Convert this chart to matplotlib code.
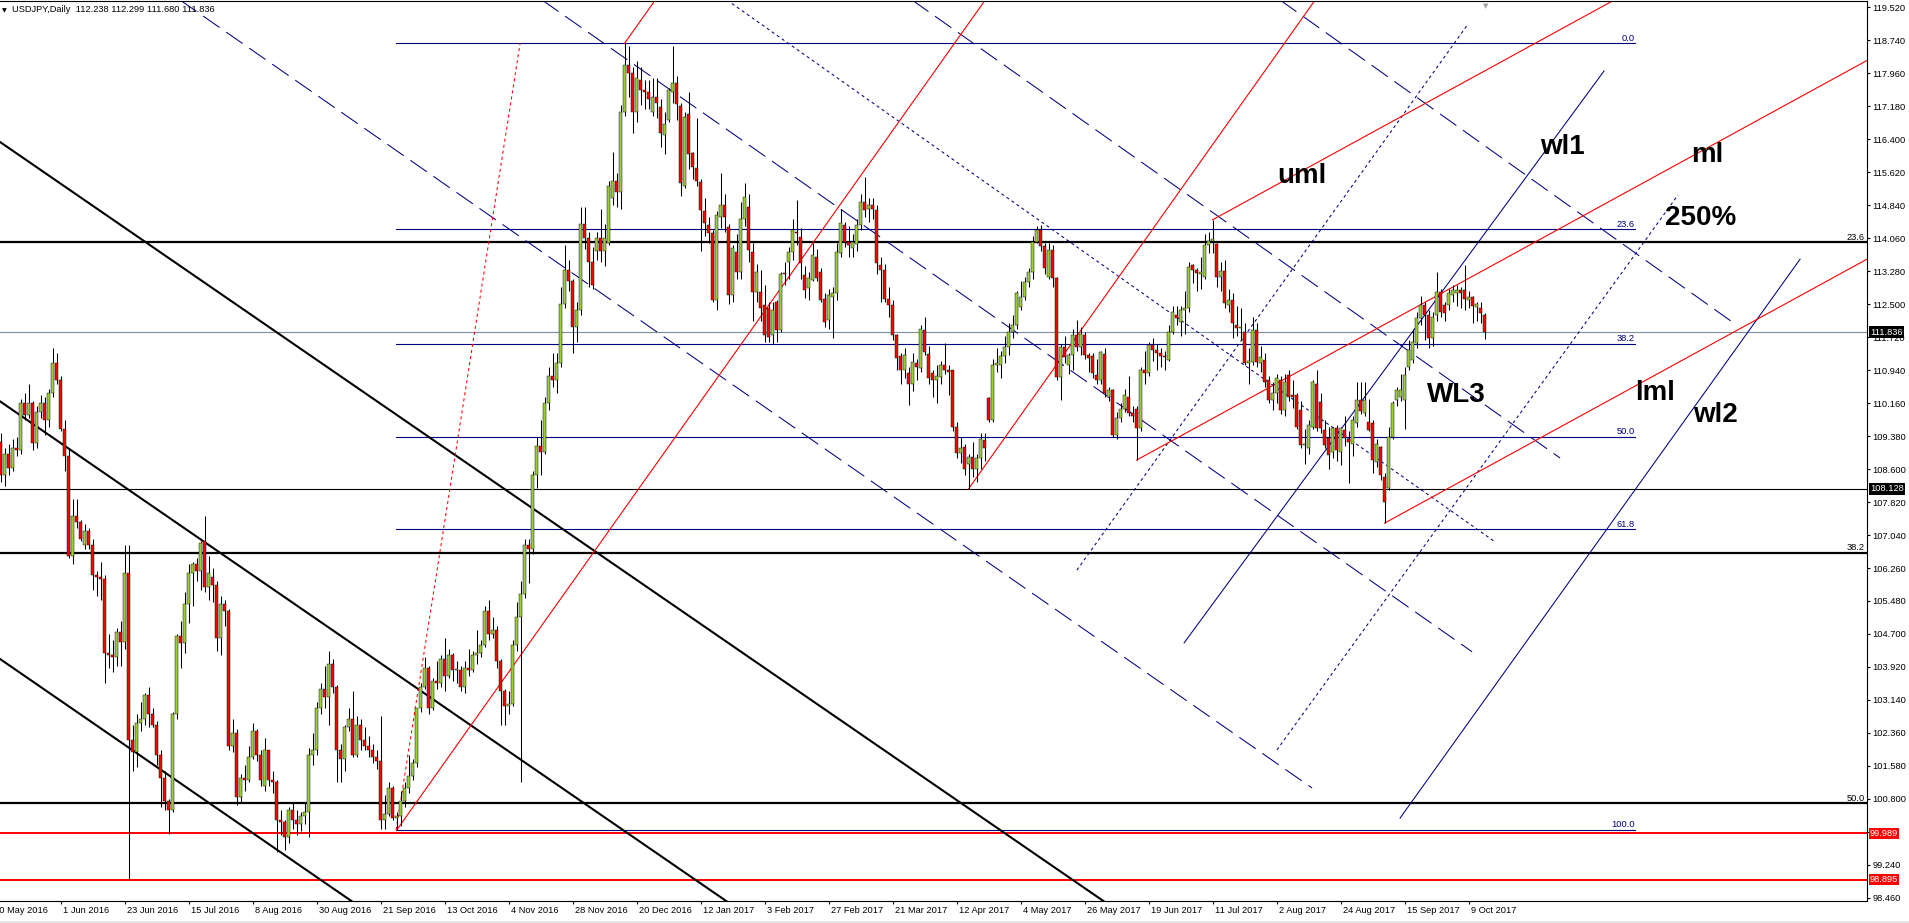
import matplotlib
matplotlib.use("Agg")
import matplotlib.pyplot as plt
import matplotlib.transforms as mtransforms
import numpy as np

plt.rcParams["font.family"] = ["Liberation Sans", "DejaVu Sans"]
plt.rcParams["lines.scale_dashes"] = False

# daily USDJPY bars, first bar = 11 May 2016, last = 13 Oct 2017
opens = [
    109.25, 108.45, 108.95, 108.62, 109.10, 109.05, 110.15, 109.88, 110.15, 109.22,
    109.95, 110.15, 109.75, 110.40, 111.10, 110.70, 109.55, 108.90, 106.55, 107.50,
    107.35, 106.80, 107.13, 106.80, 106.10, 106.05, 106.00, 104.25, 104.20, 104.15,
    104.75, 104.50, 106.15, 102.20, 101.90, 102.60, 102.70, 103.25, 102.80, 102.55,
    101.85, 101.30, 100.75, 100.55, 102.80, 104.65, 104.48, 105.40, 106.15, 106.35,
    106.20, 106.90, 105.80, 106.05, 105.85, 104.60, 105.40, 105.25, 102.05, 102.35,
    100.85, 101.30, 101.25, 101.80, 102.40, 101.85, 101.10, 101.95, 101.25, 101.20,
    100.30, 100.25, 99.90, 100.55, 100.30, 100.20, 100.40, 100.50, 101.85, 101.95,
    102.95, 103.40, 103.20, 104.00, 103.45, 101.95, 101.75, 102.50, 102.70, 101.85,
    102.55, 102.20, 102.05, 101.95, 101.80, 101.70, 100.30, 100.45, 101.05, 100.35,
    100.40, 100.75, 101.05, 101.35, 101.65, 102.95, 103.45, 103.90, 102.95, 103.60,
    103.55, 104.10, 103.70, 104.20, 103.85, 103.85, 103.45, 103.90, 103.85, 104.20,
    104.25, 104.45, 105.25, 104.70, 104.80, 104.05, 103.35, 103.00, 103.05, 104.45,
    105.10, 105.65, 106.80, 106.70, 108.45, 109.15, 109.00, 110.15, 110.80, 110.70,
    111.10, 112.50, 113.30, 113.05, 111.95, 112.35, 114.40, 114.05, 113.50, 113.75,
    114.05, 113.75, 113.95, 115.00, 115.40, 115.15, 117.05, 118.15, 117.95, 117.05,
    117.80, 117.55, 117.50, 117.05, 117.40, 117.15, 116.50, 116.85, 117.52, 117.72,
    117.18, 115.30, 117.00, 116.06, 115.72, 115.39, 114.70, 114.37, 114.17, 112.60,
    114.56, 114.84, 114.33, 112.71, 113.74, 113.26, 114.52, 114.80, 113.74, 112.79,
    112.79, 112.48, 112.40, 111.77, 112.55, 111.89, 113.22, 113.50, 113.74, 114.20,
    114.09, 113.18, 112.87, 113.07, 113.62, 113.26, 112.63, 112.12, 112.67, 112.75,
    113.70, 114.37, 113.97, 113.82, 113.93, 114.37, 114.92, 114.74, 114.84, 114.72,
    113.42, 113.30, 112.63, 112.48, 111.77, 111.26, 110.94, 110.86, 110.62, 111.10,
    110.98, 111.89, 111.33, 110.86, 110.70, 110.78, 111.06, 110.94, 110.94, 109.60,
    108.97, 109.13, 108.73, 108.89, 108.60, 108.85, 109.28, 110.27, 109.76, 111.06,
    111.06, 111.26, 111.49, 111.85, 112.00, 112.44, 112.67, 113.03, 113.26, 113.97,
    114.25, 113.86, 113.15, 113.78, 113.11, 110.78, 111.49, 111.06, 111.29, 111.77,
    111.49, 111.77, 111.29, 111.26, 110.82, 110.70, 111.33, 110.31, 110.47, 109.40,
    109.80, 110.03, 110.31, 109.92, 110.03, 109.56, 110.94, 110.86, 111.53, 111.41,
    111.35, 111.28, 111.18, 111.85, 112.24, 112.08, 112.36, 112.40, 113.42, 113.30,
    113.22, 113.15, 113.89, 114.00, 113.93, 113.15, 113.27, 112.48, 112.60, 112.00,
    111.93, 111.85, 111.10, 111.14, 111.89, 111.10, 111.18, 110.70, 110.23, 110.39,
    110.70, 109.99, 110.82, 110.35, 110.35, 110.00, 109.17, 109.09, 109.60, 110.62,
    110.19, 109.52, 109.33, 109.00, 109.56, 109.00, 109.52, 109.30, 109.20, 109.68,
    110.23, 109.92, 109.72, 109.68, 108.77, 109.13, 108.42, 108.14, 109.36, 110.23,
    110.30, 110.23, 111.02, 111.18, 111.57, 112.16, 112.48, 112.24, 111.69, 112.24,
    112.79, 112.48, 112.48, 112.71, 112.76, 112.83, 112.83, 112.60, 112.67, 112.43,
    112.40, 112.238,
]
highs = [
    109.45, 109.10, 109.20, 109.30, 109.35, 110.25, 110.40, 110.60, 110.20, 110.10,
    110.35, 110.30, 110.50, 111.45, 111.35, 110.80, 109.75, 109.10, 107.90, 107.90,
    107.40, 107.30, 107.20, 106.95, 106.20, 106.40, 106.10, 104.70, 104.55, 104.85,
    105.00, 106.80, 106.80, 102.55, 102.80, 103.10, 103.30, 103.45, 102.95, 102.65,
    101.95, 101.45, 100.80, 102.85, 104.70, 105.00, 105.70, 106.35, 106.40, 106.50,
    106.90, 107.49, 106.55, 106.25, 105.95, 105.60, 105.50, 105.30, 102.70, 102.45,
    101.40, 101.60, 102.05, 102.60, 102.45, 101.95, 102.25, 101.95, 101.45, 101.25,
    100.55, 100.30, 100.60, 100.70, 100.55, 100.50, 100.70, 102.00, 102.35, 103.10,
    103.55, 103.95, 104.30, 104.10, 103.50, 102.10, 102.55, 102.95, 103.35, 102.75,
    102.70, 102.50, 102.30, 102.10, 101.95, 102.75, 100.90, 101.20, 101.10, 100.50,
    101.00, 101.20, 101.85, 101.75, 102.95, 103.55, 104.15, 103.95, 103.65, 104.05,
    104.20, 104.60, 104.35, 104.25, 104.05, 103.95, 104.05, 104.35, 104.30, 104.80,
    104.55, 105.35, 105.50, 105.10, 104.90, 104.10, 103.40, 103.35, 104.55, 105.45,
    105.95, 106.95, 106.95, 108.55, 109.35, 109.75, 110.30, 111.00, 111.35, 111.35,
    112.90, 113.90, 113.55, 113.10, 112.55, 114.80, 114.80, 114.20, 113.85, 114.20,
    114.75, 114.40, 115.40, 116.10, 115.60, 117.20, 118.66, 118.60, 118.10, 118.25,
    118.10, 117.80, 117.80, 117.85, 117.85, 117.35, 117.05, 117.60, 118.60, 117.90,
    117.25, 117.05, 117.50, 116.10, 116.90, 115.45, 115.00, 114.55, 114.25, 114.70,
    115.60, 115.10, 114.40, 113.90, 114.15, 114.90, 115.35, 115.10, 113.95, 113.45,
    113.30, 112.95, 112.55, 112.55, 112.60, 113.25, 113.50, 113.85, 114.50, 114.95,
    114.30, 113.40, 113.25, 113.95, 113.80, 113.35, 112.75, 112.85, 112.90, 113.95,
    114.75, 114.45, 114.35, 114.15, 114.50, 115.10, 115.51, 115.00, 115.00, 114.85,
    113.60, 113.45, 112.90, 112.60, 111.80, 111.35, 111.45, 111.00, 111.35, 111.20,
    112.00, 112.20, 111.50, 110.95, 111.05, 111.15, 111.57, 111.05, 110.95, 109.70,
    109.35, 109.20, 108.95, 109.25, 108.95, 109.45, 109.45, 110.30, 111.20, 111.45,
    111.40, 111.75, 112.05, 112.25, 112.80, 113.05, 113.15, 113.35, 114.10, 114.35,
    114.37, 113.95, 113.95, 113.90, 113.15, 111.55, 111.75, 111.35, 111.90, 112.12,
    111.95, 111.85, 111.35, 111.35, 111.20, 111.40, 111.45, 110.55, 110.50, 109.95,
    110.15, 110.50, 110.80, 110.10, 110.10, 111.00, 111.40, 111.60, 111.70, 111.55,
    111.45, 111.40, 112.00, 112.45, 112.45, 112.45, 112.80, 113.50, 113.45, 113.35,
    113.60, 114.15, 114.20, 114.49, 113.95, 113.50, 113.55, 112.85, 112.75, 112.45,
    112.40, 112.05, 111.45, 112.20, 112.05, 111.50, 111.35, 110.80, 110.65, 110.85,
    110.80, 110.85, 110.95, 110.70, 110.40, 110.20, 109.55, 109.75, 110.70, 110.95,
    110.40, 109.75, 109.60, 109.60, 109.65, 109.60, 109.85, 109.50, 109.85, 110.65,
    110.65, 110.65, 110.25, 109.75, 109.30, 109.15, 108.50, 109.60, 110.20, 110.55,
    110.85, 111.00, 111.65, 111.90, 112.30, 112.70, 112.55, 112.35, 112.30, 113.26,
    112.85, 112.55, 112.85, 112.95, 112.95, 112.90, 113.43, 112.80, 112.70, 112.55,
    112.55, 112.299,
]
lows = [
    108.30, 108.20, 108.45, 108.55, 108.90, 108.95, 109.75, 109.80, 109.05, 109.10,
    109.80, 109.40, 109.60, 110.30, 110.60, 109.50, 108.55, 106.50, 106.35, 107.20,
    106.90, 106.70, 106.70, 105.75, 105.60, 105.50, 103.55, 103.90, 103.80, 103.95,
    103.95, 104.35, 98.90, 101.45, 101.55, 102.40, 102.55, 102.50, 102.50, 101.60,
    100.60, 100.55, 99.98, 100.50, 102.70, 103.90, 104.25, 104.95, 105.35, 105.95,
    105.75, 105.70, 105.50, 105.45, 104.30, 104.20, 104.90, 101.95, 101.90, 100.65,
    100.70, 101.00, 101.20, 101.75, 101.70, 101.10, 101.00, 101.10, 100.95, 99.55,
    99.95, 99.60, 99.75, 100.10, 99.95, 100.05, 100.20, 99.90, 101.60, 101.85,
    102.80, 102.95, 102.55, 103.30, 101.20, 101.20, 101.45, 102.40, 101.80, 101.80,
    101.95, 101.95, 101.80, 101.65, 101.50, 100.10, 100.10, 100.40, 100.30, 100.06,
    100.15, 100.60, 100.95, 101.25, 101.55, 102.85, 103.40, 102.80, 102.90, 103.40,
    103.45, 103.35, 103.65, 103.60, 103.55, 103.35, 103.30, 103.70, 103.80, 104.00,
    104.15, 104.40, 104.55, 104.60, 103.90, 102.55, 102.55, 102.80, 103.00, 104.30,
    101.20, 105.55, 105.90, 106.60, 108.15, 108.45, 108.95, 110.00, 110.55, 110.40,
    111.00, 112.40, 112.80, 111.35, 111.60, 112.25, 113.80, 112.90, 112.85, 113.55,
    113.50, 113.40, 113.90, 114.85, 114.80, 114.75, 116.95, 117.40, 116.55, 116.80,
    117.20, 117.10, 117.10, 116.95, 116.90, 116.20, 116.05, 116.80, 117.25, 116.85,
    115.05, 115.25, 115.70, 115.45, 115.30, 113.75, 114.10, 113.95, 112.55, 112.35,
    114.30, 114.20, 112.50, 112.55, 113.10, 113.10, 114.35, 113.50, 112.10, 112.55,
    112.10, 111.60, 111.60, 111.55, 111.60, 111.85, 112.95, 113.10, 113.55, 113.90,
    113.10, 112.65, 112.60, 113.05, 113.05, 112.55, 111.95, 111.90, 111.70, 112.60,
    113.60, 113.85, 113.60, 113.60, 113.75, 114.25, 114.55, 114.45, 114.50, 113.20,
    112.55, 112.55, 112.20, 111.65, 110.95, 110.60, 110.75, 110.11, 110.45, 110.70,
    110.90, 111.30, 110.60, 110.30, 110.15, 110.60, 110.85, 110.35, 109.50, 108.85,
    108.75, 108.45, 108.13, 108.40, 108.30, 108.60, 108.80, 109.70, 109.70, 110.90,
    110.75, 111.10, 111.30, 111.70, 111.90, 112.35, 112.60, 112.90, 113.10, 113.95,
    113.75, 113.20, 113.10, 112.90, 110.70, 110.23, 111.10, 110.85, 110.95, 111.40,
    111.30, 111.20, 110.90, 110.75, 110.60, 110.60, 110.30, 110.20, 109.35, 109.30,
    109.70, 109.95, 109.85, 109.70, 108.81, 109.50, 110.60, 110.80, 111.15, 110.95,
    111.00, 110.95, 111.15, 111.80, 112.00, 111.75, 111.80, 112.30, 113.00, 112.80,
    112.85, 113.10, 113.70, 113.70, 112.90, 112.80, 112.40, 112.30, 111.70, 111.75,
    111.65, 111.05, 110.60, 111.05, 111.00, 110.90, 110.55, 110.15, 110.00, 110.15,
    109.90, 109.85, 110.20, 110.05, 109.55, 109.10, 108.72, 108.95, 109.55, 109.50,
    109.45, 109.10, 108.60, 108.85, 108.80, 108.70, 109.15, 108.26, 108.90, 109.60,
    109.90, 109.85, 109.50, 108.50, 108.65, 108.35, 107.32, 108.10, 109.30, 110.10,
    110.20, 109.55, 110.95, 111.10, 111.45, 112.00, 111.65, 111.45, 111.50, 112.10,
    112.20, 112.10, 112.35, 112.55, 112.45, 112.40, 112.35, 112.40, 112.04, 112.10,
    112.05, 111.680,
]
closes = [
    108.45, 108.95, 108.62, 109.10, 109.05, 110.15, 109.88, 110.15, 109.22, 109.95,
    110.15, 109.75, 110.40, 111.10, 110.70, 109.55, 108.90, 106.55, 107.50, 107.35,
    106.95, 107.13, 106.80, 106.10, 106.05, 106.00, 104.25, 104.20, 104.15, 104.75,
    104.50, 106.15, 102.20, 101.90, 102.60, 102.70, 103.25, 102.80, 102.55, 101.85,
    101.30, 100.75, 100.55, 102.80, 104.65, 104.48, 105.40, 106.15, 106.35, 106.20,
    106.85, 105.80, 106.15, 105.85, 104.60, 105.40, 105.25, 102.05, 102.35, 100.85,
    101.30, 101.25, 101.80, 102.40, 101.85, 101.25, 101.95, 101.25, 101.20, 100.30,
    100.25, 99.90, 100.55, 100.30, 100.20, 100.40, 100.50, 101.85, 101.95, 102.95,
    103.40, 103.20, 104.00, 103.45, 101.95, 101.75, 102.50, 102.70, 101.85, 102.55,
    102.20, 102.05, 101.95, 101.80, 101.70, 100.30, 100.45, 101.05, 100.35, 100.40,
    100.75, 101.05, 101.35, 101.65, 102.95, 103.45, 103.90, 102.95, 103.60, 103.55,
    104.10, 103.70, 104.20, 103.85, 103.85, 103.45, 103.90, 103.85, 104.20, 104.25,
    104.45, 105.25, 104.70, 104.80, 104.05, 103.35, 103.00, 103.05, 104.45, 105.10,
    105.65, 106.80, 106.70, 108.45, 109.15, 109.00, 110.15, 110.80, 110.70, 111.10,
    112.50, 113.30, 113.05, 111.95, 112.35, 114.40, 114.05, 113.50, 112.95, 114.05,
    113.75, 114.05, 115.30, 115.40, 115.15, 117.05, 118.15, 117.95, 117.05, 117.85,
    117.55, 117.50, 117.35, 117.40, 117.25, 116.55, 116.75, 117.55, 117.72, 117.23,
    115.35, 116.93, 116.05, 115.75, 115.40, 114.72, 114.42, 114.17, 112.60, 114.60,
    114.84, 114.56, 112.71, 113.82, 113.26, 114.52, 115.04, 113.78, 112.79, 113.26,
    112.40, 111.77, 111.73, 112.36, 111.89, 113.22, 113.20, 113.74, 114.25, 114.17,
    113.46, 112.83, 113.11, 113.66, 113.11, 112.59, 112.08, 112.71, 112.75, 113.74,
    114.41, 113.97, 113.90, 113.97, 114.37, 114.92, 114.72, 114.84, 114.74, 113.46,
    113.30, 112.63, 112.48, 111.77, 111.22, 110.94, 111.29, 110.62, 111.14, 111.02,
    111.92, 111.37, 110.74, 110.70, 110.80, 111.06, 110.94, 110.90, 109.60, 108.97,
    109.10, 108.60, 108.89, 108.60, 108.85, 109.32, 109.09, 109.76, 111.06, 111.10,
    111.26, 111.49, 111.85, 112.00, 112.75, 112.67, 113.03, 113.26, 113.97, 114.25,
    113.86, 113.34, 113.78, 113.11, 110.78, 111.49, 111.25, 111.29, 111.77, 111.49,
    111.80, 111.29, 111.22, 110.86, 110.70, 111.37, 110.39, 110.47, 109.40, 109.80,
    110.03, 110.35, 109.92, 109.85, 109.56, 110.94, 110.86, 111.53, 111.41, 111.35,
    111.28, 111.25, 111.85, 112.32, 112.16, 112.36, 112.40, 113.38, 113.30, 113.24,
    113.26, 113.89, 114.00, 114.03, 113.15, 113.27, 112.52, 112.60, 112.04, 111.93,
    111.95, 111.10, 111.15, 111.89, 111.14, 111.25, 110.66, 110.23, 110.39, 110.74,
    109.99, 110.66, 110.31, 110.31, 109.60, 109.17, 109.17, 109.64, 110.66, 109.56,
    109.56, 109.17, 108.93, 109.56, 109.05, 109.56, 109.33, 109.25, 109.76, 110.23,
    109.96, 110.23, 109.52, 108.81, 109.20, 108.46, 107.83, 109.36, 110.15, 110.47,
    110.47, 110.82, 111.41, 111.61, 112.16, 112.48, 112.24, 111.69, 112.20, 112.79,
    112.32, 112.28, 112.75, 112.83, 112.83, 112.75, 112.63, 112.67, 112.45, 112.50,
    112.28, 111.836,
]

# bottom time labels, one every 16 bars starting at bar -16 (10 May 2016)
date_labels = [
    "10 May 2016", "1 Jun 2016", "23 Jun 2016", "15 Jul 2016", "8 Aug 2016",
    "30 Aug 2016", "21 Sep 2016", "13 Oct 2016", "4 Nov 2016", "28 Nov 2016",
    "20 Dec 2016", "12 Jan 2017", "3 Feb 2017", "27 Feb 2017", "21 Mar 2017",
    "12 Apr 2017", "4 May 2017", "26 May 2017", "19 Jun 2017", "11 Jul 2017",
    "2 Aug 2017", "24 Aug 2017", "15 Sep 2017", "9 Oct 2017",
]

# fibonacci retracements (blue one drawn between bars 84..393.6, black one full width)
fib_blue_hi, fib_blue_lo = 118.66, 100.07
fib_blue_levels = [0.0, 23.6, 38.2, 50.0, 61.8, 100.0]
fib_black_hi, fib_black_lo = 125.82, 75.57
fib_black_levels = [23.6, 38.2, 50.0]

# horizontal price lines: (price, line colour, label box colour)
price_lines = [(111.836, "#7f8fa0", "black"), (108.128, "black", "black"),
               (99.989, "#ff0000", "#ff0000"), (98.895, "#ff0000", "#ff0000")]

# pitchfork anchors (bar, price)
fork_big = [(84, 100.06), (141, 118.66), (227, 108.13)]
fork_small = [(269, 108.81), (288, 114.49), (331, 107.32)]

# trend lines (bar, price) pairs
black_channel = [((-15.125, 116.33), (266.7, 98.0)),
                 ((-15.125, 110.20), (172.4, 98.0)),
                 ((-15.125, 104.11), (78.7, 98.0))]
blue_dashed = [((29.9, 119.685), (312.9, 101.06)),
               ((120.4, 119.685), (352.9, 104.28)),
               ((212.9, 119.685), (374.9, 108.86)),
               ((304.9, 119.685), (418.6, 112.03))]
blue_dotted = [((166.6, 119.685), (358.6, 106.88)),
               ((254.1, 106.21), (351.9, 119.12)),
               ((304.1, 101.96), (404.4, 115.08))]
blue_solid = [((280.9, 104.49), (385.9, 118.01)),
              ((334.9, 100.35), (434.9, 113.56))]
red_dotted = [((83.9, 100.07), (114.9, 118.66))]

# chart annotations (text, bar, price at baseline)
notes = [("uml", 304.1, 115.35), ("wl1", 369.9, 116.05), ("ml", 407.6, 115.86),
         ("250%", 401.1, 114.37), ("WL3", 341.6, 110.19), ("lml", 393.6, 110.23),
         ("wl2", 408.1, 109.70)]

opens = np.array(opens)
highs = np.array(highs)
lows = np.array(lows)
closes = np.array(closes)
bars = np.arange(-15, -15 + len(closes))

NAVY = "#000080"
FS = 6.7

fig = plt.figure(figsize=(19.09, 9.23), dpi=100)
ax = fig.add_axes([0, 22 / 923, 1867 / 1909, 900 / 923])
ax.set_xlim(-15.125, 451.625)
ax.set_ylim(98.389, 119.662)

right_tr = mtransforms.blended_transform_factory(ax.transAxes, ax.transData)

# horizontal lines
for price, col, box in price_lines:
    lw = 1.4 if col == "#ff0000" else 0.8
    ax.axhline(price, color=col, lw=lw, zorder=2)
    ax.annotate(f"{price:.3f}", xy=(1.0, price), xycoords=right_tr,
                xytext=(2.2, 0), textcoords="offset points", ha="left", va="center",
                fontsize=FS, color="white", annotation_clip=False, zorder=6,
                bbox=dict(boxstyle="square,pad=0.12", fc=box, ec="none"))

for lvl in fib_black_levels:
    price = fib_black_hi - (fib_black_hi - fib_black_lo) * lvl / 100
    ax.axhline(price, color="black", lw=1.6, zorder=2)
    ax.annotate(f"{lvl:.1f}", xy=(1.0, price), xycoords=right_tr, xytext=(-1.5, 1.6),
                textcoords="offset points", ha="right", va="baseline", fontsize=FS,
                color="black", zorder=6)

for lvl in fib_blue_levels:
    price = fib_blue_hi - (fib_blue_hi - fib_blue_lo) * lvl / 100
    ax.plot([83.9, 393.6], [price, price], color=NAVY, lw=0.8, zorder=2)
    ax.annotate(f"{lvl:.1f}", xy=(393.6, price), xytext=(0, 1.8),
                textcoords="offset points", ha="right", va="baseline", fontsize=FS,
                color=NAVY, zorder=6)

# sloped lines
for a, b in black_channel:
    ax.plot([a[0], b[0]], [a[1], b[1]], color="black", lw=1.5, zorder=2)
for a, b in blue_dashed:
    ax.plot([a[0], b[0]], [a[1], b[1]], color=NAVY, lw=0.75, dashes=(14.4, 5.8), zorder=2)
for a, b in blue_dotted:
    ax.plot([a[0], b[0]], [a[1], b[1]], color=NAVY, lw=0.75, dashes=(2.2, 2.2), zorder=2)
for a, b in blue_solid:
    ax.plot([a[0], b[0]], [a[1], b[1]], color=NAVY, lw=0.75, zorder=2)
for a, b in red_dotted:
    ax.plot([a[0], b[0]], [a[1], b[1]], color="#ff0000", lw=0.75, dashes=(2.2, 2.2), zorder=2)


def pitchfork(anchors):
    (k1, p1), (k2, p2), (k3, p3) = anchors
    slope = ((p2 + p3) / 2 - p1) / ((k2 + k3) / 2 - k1)
    k_end = 470
    for k0, p0 in anchors:
        ax.plot([k0, k_end], [p0, p0 + slope * (k_end - k0)], color="#ff0000",
                lw=0.8, zorder=2)


pitchfork(fork_big)
pitchfork(fork_small)

# candles
up = closes >= opens
ax.vlines(bars, lows, highs, color="black", lw=0.75, zorder=4)
body_lo = np.minimum(opens, closes)
body_h = np.maximum(np.abs(closes - opens), 0.025)
ax.bar(bars, body_h, bottom=body_lo, width=0.7,
       color=np.where(up, "#9acd32", "#ff0000"), edgecolor="black", linewidth=0.3,
       zorder=5)

for text, k, p in notes:
    ax.text(k, p, text, fontsize=20, fontweight="bold", ha="left", va="baseline",
            color="black", zorder=7)

# axes and ticks; the 100.020 label sits under the 99.989 price box, as in MT4
yticks = np.round(98.46 + 0.78 * np.arange(28), 3)
ax.yaxis.tick_right()
ax.set_yticks(yticks)
ax.set_yticklabels(["" if abs(v - 100.02) < 1e-6 else f"{v:.3f}" for v in yticks])
ax.tick_params(axis="y", direction="out", length=2.5, width=0.8, pad=1.5,
               labelsize=FS, colors="black")

tick_pos = [-16 + 16 * j for j in range(len(date_labels))]
ax.set_xticks([t for t in tick_pos if t >= -15])
ax.tick_params(axis="x", direction="out", length=2.5, width=0.8, labelbottom=False)
for t, lab in zip(tick_pos, date_labels):
    # the first label starts left of the window edge and is cut off, as in the terminal
    dx = -1.6 if t < -15 else 1.6
    ax.annotate(lab, xy=(t, 0), xycoords=("data", "axes fraction"), xytext=(dx, -6.8),
                textcoords="offset points", ha="left", va="center", fontsize=FS,
                annotation_clip=False)

for side in ["top", "right", "bottom"]:
    ax.spines[side].set_linewidth(0.8)
ax.spines["left"].set_visible(False)

# title line in the chart corner
fig.text(12 / 1909, 1 - 12.5 / 923, "USDJPY,Daily  112.238 112.299 111.680 111.836",
         fontsize=FS, ha="left", va="baseline")
fig.text(1.5 / 1909, 1 - 12 / 923, "\u25bc", fontsize=4.5, ha="left", va="baseline",
         family="DejaVu Sans")
fig.text(1486 / 1909, 1 - 8 / 923, "\u25bc", fontsize=5, ha="center", va="baseline",
         family="DejaVu Sans", color="#a0a0a0")

fig.patches.append(plt.Rectangle((0, 0), 1, 2 / 923, transform=fig.transFigure,
                                 fc="#e6e6e6", ec="none"))

fig.savefig("out.png", dpi=100)
plt.close(fig)
